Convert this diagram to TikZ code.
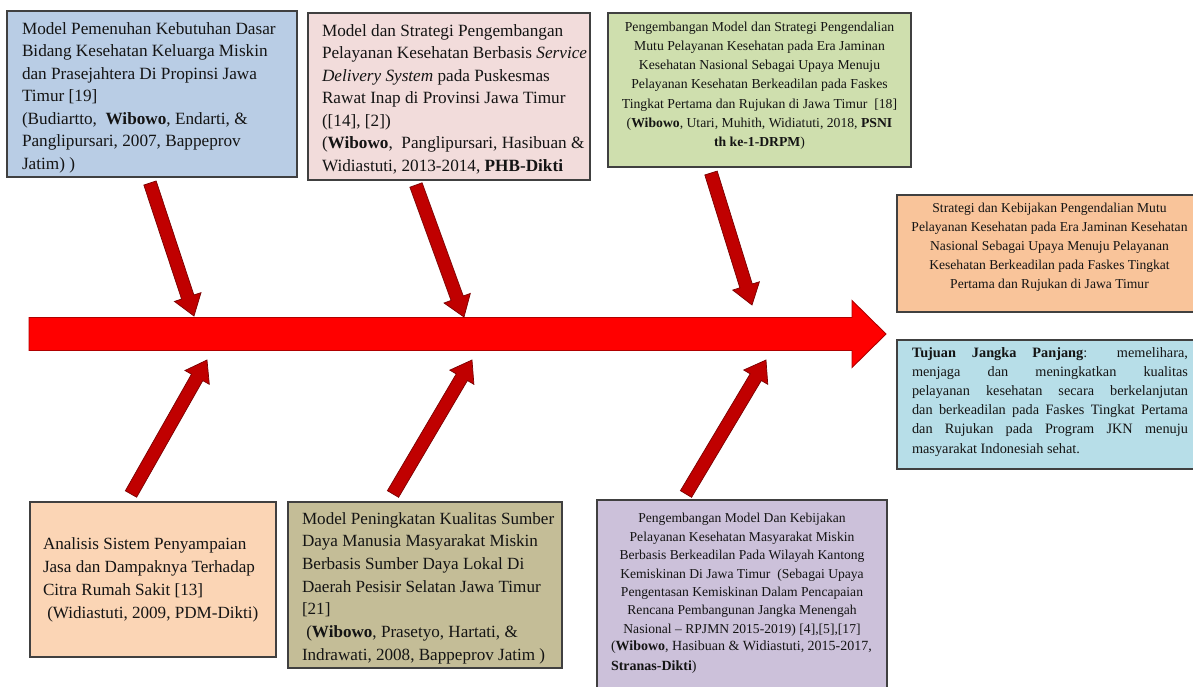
\documentclass[tikz,border=0pt]{standalone}
\usepackage{fontspec}
\setmainfont{Liberation Serif}
\usetikzlibrary{calc}
\definecolor{cA}{HTML}{B9CDE5}
\definecolor{cB}{HTML}{F2DCDB}
\definecolor{cC}{HTML}{CFDFAE}
\definecolor{cD}{HTML}{F9C49A}
\definecolor{cE}{HTML}{B7DEE8}
\definecolor{cF}{HTML}{FBD5B5}
\definecolor{cG}{HTML}{C4BD97}
\definecolor{cH}{HTML}{CCC1DA}
\definecolor{adark}{HTML}{C00000}
\definecolor{aedge}{HTML}{7A0000}
\definecolor{medge}{HTML}{B00000}
\tikzset{
  box/.style={draw=black!75, line width=1.1pt, inner sep=0pt, outer sep=0pt, anchor=north west},
  txt/.style={inner sep=0pt, outer sep=0pt, text=black!92},
  barrow/.style={fill=adark, draw=aedge, line width=0.7pt, line join=miter},
  mainarrow/.style={fill=red, draw=medge, line width=0.9pt, line join=miter},
}
\newcommand\fatarrow[6]{%
  \coordinate (#2#3h) at ($(#3)!#6!(#2)$);
  \draw[#1] ($(#2)!#4!90:(#3)$) -- ($(#2#3h)!#4!90:(#3)$) -- ($(#2#3h)!#5!90:(#3)$) -- (#3)
    -- ($(#2#3h)!#5!-90:(#3)$) -- ($(#2#3h)!#4!-90:(#3)$) -- ($(#2)!#4!-90:(#3)$) -- cycle;}
\begin{document}
\begin{tikzpicture}[x=1pt,y=-1pt]
\useasboundingbox (0,0) rectangle (1193,686);
\clip (0,0) rectangle (1193,686);
\fill[white] (0,0) rectangle (1193,686);

% boxes
\node[box, fill=cA, minimum width=290pt, minimum height=166pt] (b1) at (7,11) {};
\node[box, fill=cB, minimum width=282pt, minimum height=167pt] (b2) at (308,13) {};
\node[box, fill=cC, minimum width=303pt, minimum height=154pt] (b3) at (608,13) {};
\node[box, fill=cD, minimum width=313pt, minimum height=117pt] (b4) at (897,195) {};
\node[box, fill=cE, minimum width=313pt, minimum height=129pt] (b5) at (897,340) {};
\node[box, fill=cF, minimum width=246pt, minimum height=155pt] (b6) at (30,502) {};
\node[box, fill=cG, minimum width=274pt, minimum height=166pt] (b7) at (288,502) {};
\node[box, fill=cH, minimum width=290pt, minimum height=200pt] (b8) at (597,500) {};

% texts
\node[txt, anchor=north west, align=left, font=\fontsize{17.2}{22.5}\selectfont] (t-b1) at (22,18.25)
{\strut Model Pemenuhan Kebutuhan Dasar\\Bidang Kesehatan Keluarga Miskin\\dan Prasejahtera Di Propinsi Jawa\\Timur [19]\\(Budiartto,\ \ \textbf{Wibowo}, Endarti, \&\\Panglipursari, 2007, Bappeprov\\Jatim) )};

\node[txt, anchor=north west, align=left, font=\fontsize{17.2}{22.5}\selectfont] (t-b2) at (322,20.25)
{\strut Model dan Strategi Pengembangan\\Pelayanan Kesehatan Berbasis \textit{Service}\\\textit{Delivery System} pada Puskesmas\\Rawat Inap di Provinsi Jawa Timur\\([14], [2])\\(\textbf{Wibowo},\ \ Panglipursari, Hasibuan \&\\Widiastuti, 2013-2014, \textbf{PHB-Dikti}};

\node[txt, anchor=north, align=center, font=\fontsize{13.7}{19.3}\selectfont] (t-b3) at (759.5,17.5)
{\strut Pengembangan Model dan Strategi Pengendalian\\Mutu Pelayanan Kesehatan pada Era Jaminan\\Kesehatan Nasional Sebagai Upaya Menuju\\Pelayanan Kesehatan Berkeadilan pada Faskes\\Tingkat Pertama dan Rujukan di Jawa Timur\ \ [18]\\(\textbf{Wibowo}, Utari, Muhith, Widiatuti, 2018, \textbf{PSNI}\\\textbf{th ke-1-DRPM})};

\node[txt, anchor=north, align=center, font=\fontsize{13.6}{18.8}\selectfont] (t-b4) at (1049.5,199.8)
{\strut Strategi dan Kebijakan Pengendalian Mutu\\Pelayanan Kesehatan pada Era Jaminan Kesehatan\\Nasional Sebagai Upaya Menuju Pelayanan\\Kesehatan Berkeadilan pada Faskes Tingkat\\Pertama dan Rujukan di Jawa Timur};

\node[txt, anchor=north west, align=left, font=\fontsize{14.3}{19.2}\selectfont] (t-b5) at (912,343.6)
{\strut\makebox[276pt][s]{\textbf{Tujuan Jangka Panjang}: memelihara,}\\\makebox[276pt][s]{menjaga dan meningkatkan kualitas}\\\makebox[276pt][s]{pelayanan kesehatan secara berkelanjutan}\\\makebox[276pt][s]{dan berkeadilan pada Faskes Tingkat Pertama}\\\makebox[276pt][s]{dan Rujukan pada Program JKN menuju}\\masyarakat Indonesiah sehat.};

\node[txt, anchor=north west, align=left, font=\fontsize{17.1}{23}\selectfont] (t-b6) at (43,532.9)
{\strut Analisis Sistem Penyampaian\\Jasa dan Dampaknya Terhadap\\Citra Rumah Sakit [13]\\\ (Widiastuti, 2009, PDM-Dikti)};

\node[txt, anchor=north west, align=left, font=\fontsize{17.1}{22.7}\selectfont] (t-b7) at (302,508.1)
{\strut Model Peningkatan Kualitas Sumber\\Daya Manusia Masyarakat Miskin\\Berbasis Sumber Daya Lokal Di\\Daerah Pesisir Selatan Jawa Timur\\[0pt][21]\\\ (\textbf{Wibowo}, Prasetyo, Hartati, \&\\Indrawati, 2008, Bappeprov Jatim )};

\node[txt, anchor=north, align=center, font=\fontsize{13.6}{18.4}\selectfont] (t-b8) at (742,510.1)
{\strut Pengembangan Model Dan Kebijakan\\Pelayanan Kesehatan Masyarakat Miskin\\Berbasis Berkeadilan Pada Wilayah Kantong\\Kemiskinan Di Jawa Timur\ \ (Sebagai Upaya\\Pengentasan Kemiskinan Dalam Pencapaian\\Rencana Pembangunan Jangka Menengah\\Nasional – RPJMN 2015-2019) [4],[5],[17]};
\node[txt, anchor=north west, align=left, font=\fontsize{14}{20}\selectfont] (t-b8b) at (611,636)
{\strut(\textbf{Wibowo}, Hasibuan \& Widiastuti, 2015-2017,\\\textbf{Stranas-Dikti})};

% main arrow
\coordinate (m0) at (29,334);
\coordinate (m1) at (886,334);
\fatarrow{mainarrow}{m0}{m1}{16.5pt}{33.5pt}{34pt}

% branch arrows
\coordinate (ta) at (150,183); \coordinate (ha) at (194,316);
\coordinate (tb) at (416,185); \coordinate (hb) at (464,317);
\coordinate (tc) at (711,173); \coordinate (hc) at (752,305);
\coordinate (td) at (131,494); \coordinate (hd) at (207,360);
\coordinate (te) at (393,494); \coordinate (he) at (472,360);
\coordinate (tf) at (686,494); \coordinate (hf) at (766,360);
\fatarrow{barrow}{ta}{ha}{6.5pt}{14pt}{20pt}
\fatarrow{barrow}{tb}{hb}{6.5pt}{14pt}{20pt}
\fatarrow{barrow}{tc}{hc}{6.5pt}{14pt}{20pt}
\fatarrow{barrow}{td}{hd}{6.5pt}{14pt}{20pt}
\fatarrow{barrow}{te}{he}{6.5pt}{14pt}{20pt}
\fatarrow{barrow}{tf}{hf}{6.5pt}{14pt}{20pt}
\end{tikzpicture}
\end{document}
